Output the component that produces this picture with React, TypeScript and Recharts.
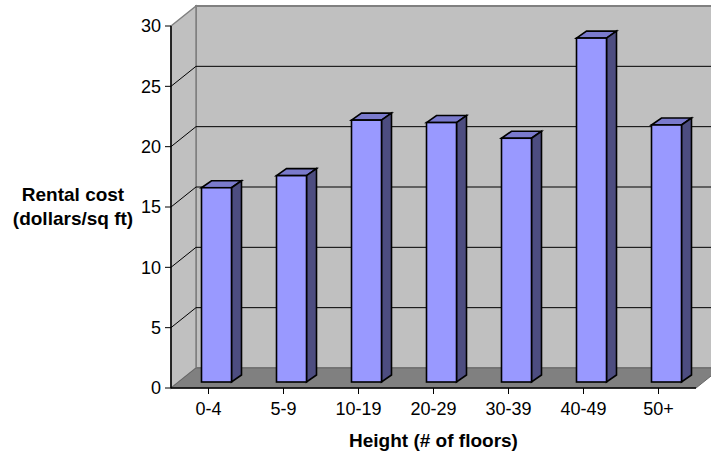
import React from "react";
import { BarChart, Bar, XAxis, YAxis, CartesianGrid, Label, usePlotArea } from "recharts";

const categories = ["0-4", "5-9", "10-19", "20-29", "30-39", "40-49", "50+"];
const rentalCost = [16.1, 17.1, 21.7, 21.5, 20.2, 28.5, 21.3];
const yTicks = [0, 5, 10, 15, 20, 25, 30];

const data = categories.map((name, i) => ({ name, rent: rentalCost[i] }));

const DX = 25;
const DY = 20;
const TOP = 26;
const BOTTOM = 388;
const FONT = "'Liberation Sans', Arial, sans-serif";

// back wall, side wall and floor of the 3d box
function Walls() {
  const p = usePlotArea();
  if (!p) return null;
  const l = p.x;
  const r = p.x + p.width;
  const t = p.y;
  const b = p.y + p.height;
  return (
    <g>
      <rect x={l + DX} y={t - DY} width={p.width} height={p.height} fill="#c0c0c0" stroke="#808080" strokeWidth={2} />
      <polygon points={`${l},${t} ${l + DX},${t - DY} ${l + DX},${b - DY} ${l},${b}`} fill="#c0c0c0" stroke="#808080" strokeWidth={1.5} />
      <polygon points={`${l},${b} ${l + DX},${b - DY} ${r + DX},${b - DY} ${r},${b}`} fill="#808080" stroke="#666" />
    </g>
  );
}

function Bar3D(props: any) {
  const { x, y, width, height } = props;
  const ox = 7.5;
  const oy = -6;
  const d = 10;
  const h = 7;
  const fx = x + ox;
  const fy = y + oy;
  const w = width;
  return (
    <g stroke="#000" strokeWidth={1.6}>
      <polygon points={`${fx},${fy} ${fx + d},${fy - h} ${fx + w + d},${fy - h} ${fx + w},${fy}`} fill="#7a7acc" />
      <polygon points={`${fx + w},${fy} ${fx + w + d},${fy - h} ${fx + w + d},${fy + height - h} ${fx + w},${fy + height}`} fill="#4d4d80" />
      <rect x={fx} y={fy} width={w} height={height} fill="#9999ff" />
    </g>
  );
}

function gridLine(props: any) {
  const { x1, x2, y1 } = props;
  // top and bottom edges belong to the box, not the grid
  if (y1 <= TOP || y1 >= BOTTOM) return <g key={y1} />;
  return (
    <polyline
      key={y1}
      points={`${x1},${y1} ${x1 + DX},${y1 - DY} ${x2 + DX},${y1 - DY}`}
      fill="none"
      stroke="#000"
      strokeWidth={1}
    />
  );
}

function YTitle() {
  return (
    <text textAnchor="middle" fontFamily={FONT} fontSize={19} fontWeight="bold" fill="#000">
      <tspan x={73} y={201}>Rental cost</tspan>
      <tspan x={73} y={225}>(dollars/sq ft)</tspan>
    </text>
  );
}

export default function App() {
  return (
    <div style={{ width: 711, height: 456, background: "#fff" }}>
      <style>{"body{margin:0}"}</style>
      <BarChart
        width={711}
        height={456}
        data={data}
        margin={{ top: TOP, right: 15, bottom: 0, left: 0 }}
      >
        <Walls />
        <CartesianGrid horizontal={gridLine} vertical={false} syncWithTicks zIndex={10} />
        <XAxis
          dataKey="name"
          tickLine={{ stroke: "#000" }}
          axisLine={{ stroke: "#000", strokeWidth: 1.5 }}
          tick={{ fill: "#000", fontSize: 18, fontFamily: FONT }}
          tickSize={6}
          interval={0}
          height={68}
          tickMargin={8}
        >
          <Label value="Height (# of floors)" position="insideBottom" offset={9} style={{ fontFamily: FONT, fontSize: 19, fontWeight: "bold", fill: "#000" }} />
        </XAxis>
        <YAxis
          width={171}
          domain={[0, 30]}
          ticks={yTicks}
          interval={0}
          tickLine={{ stroke: "#000" }}
          axisLine={{ stroke: "#000", strokeWidth: 1.5 }}
          tick={{ fill: "#000", fontSize: 18, fontFamily: FONT }}
          tickSize={6}
          tickMargin={4}
        >
          <Label content={<YTitle />} />
        </YAxis>
        <Bar dataKey="rent" barSize={30} shape={<Bar3D />} isAnimationActive={false} />
      </BarChart>
    </div>
  );
}
